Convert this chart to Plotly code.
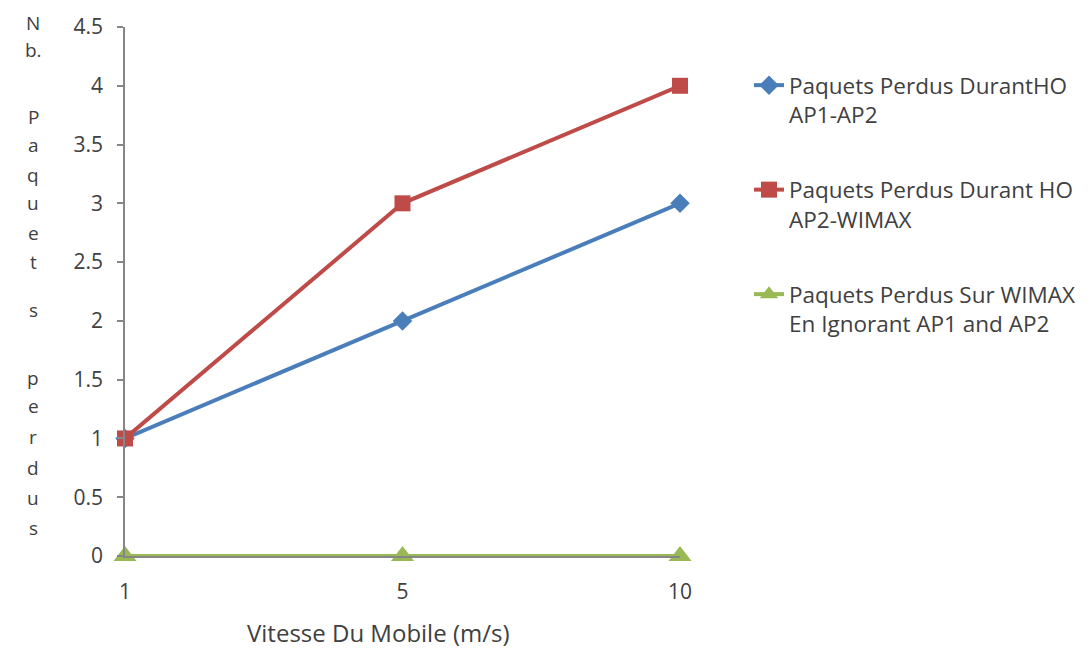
import plotly.graph_objects as go

# ---- data ----
categories = ["1", "5", "10"]
series_names = [
    "Paquets Perdus DurantHO<br>AP1-AP2",
    "Paquets Perdus Durant HO<br>AP2-WIMAX",
    "Paquets Perdus Sur WIMAX<br>En Ignorant AP1 and AP2",
]
values_ap1_ap2 = [1, 2, 3]
values_ap2_wimax = [1, 3, 4]
values_wimax = [0, 0, 0]
y_ticks = [0, 0.5, 1, 1.5, 2, 2.5, 3, 3.5, 4, 4.5]
x_title = "Vitesse Du Mobile (m/s)"
y_title_chars = ["N", "b.", "P", "a", "q", "u", "e", "t", "s",
                 "p", "e", "r", "d", "u", "s"]

# ---- styling / layout (page pixels; figure sits 8px inside the page) ----
FONT = "Open Sans"
TXT = "#404040"
AX = "#868686"
OFF = 8
W, H = 1092 - OFF, 650 - OFF
PL, PR, PT, PB = 125, 680, 27, 556      # plot area in page pixels
L, R, T, B = PL - OFF, W - (PR - OFF), PT - OFF, H - (PB - OFF)
plot_w, plot_h = PR - PL, PB - PT


def px_x(px):
    return (px - PL) / plot_w


def px_y(py):
    return (PB - py) / plot_h


fig = go.Figure()
styles = [
    dict(color="#4A7EBB", symbol="diamond", size=15),
    dict(color="#BE4B48", symbol="square", size=16),
    dict(color="#98B954", symbol="triangle-up", size=20),
]
for name, vals, st, g in zip(series_names,
                             [values_ap1_ap2, values_ap2_wimax, values_wimax],
                             styles, ["a", "b", "c"]):
    fig.add_trace(go.Scatter(
        x=categories, y=vals, name=name, mode="lines+markers",
        line=dict(color=st["color"], width=4),
        marker=dict(color=st["color"], symbol=st["symbol"], size=st["size"]),
        cliponaxis=False, legendgroup=g,
    ))

# y-axis title as stacked characters
y_char_px = [23, 50, 117, 145, 175, 203, 233, 262, 310,
             378, 406, 437, 468, 498, 528]
for ch, py in zip(y_title_chars, y_char_px):
    fig.add_annotation(text=ch, xref="paper", yref="paper",
                       x=px_x(33), y=px_y(py),
                       xanchor="center", yanchor="middle", showarrow=False,
                       font=dict(family=FONT, size=19, color=TXT))

fig.add_annotation(text=x_title, xref="paper", yref="paper",
                   x=px_x(378), y=px_y(632),
                   xanchor="center", yanchor="middle", showarrow=False,
                   borderpad=0,
                   font=dict(family=FONT, size=24, color=TXT))

fig.update_layout(
    width=W, height=H,
    margin=dict(l=L, r=R, t=T, b=B, autoexpand=False),
    paper_bgcolor="white", plot_bgcolor="white",
    font=dict(family=FONT, size=20, color=TXT),
    showlegend=True,
    legend=dict(x=px_x(749), y=px_y(64),
                xanchor="left", yanchor="top",
                font=dict(family=FONT, size=22.5, color=TXT),
                traceorder="grouped", tracegroupgap=43, valign="top",
                bgcolor="rgba(0,0,0,0)"),
    xaxis=dict(type="category", range=[0, 2], showgrid=False,
               showline=True, linecolor=AX, linewidth=1.5,
               ticks="", ticklabelstandoff=16,
               tickfont=dict(family=FONT, size=21, color=TXT),
               zeroline=False),
    yaxis=dict(range=[0, 4.5], tickvals=y_ticks, showgrid=False,
               showline=True, linecolor=AX, linewidth=1.5,
               ticks="outside", ticklen=6, tickcolor=AX, tickwidth=1.5,
               ticklabelstandoff=10,
               tickfont=dict(family=FONT, size=21, color=TXT),
               zeroline=False),
)

fig.write_html("out.html")
